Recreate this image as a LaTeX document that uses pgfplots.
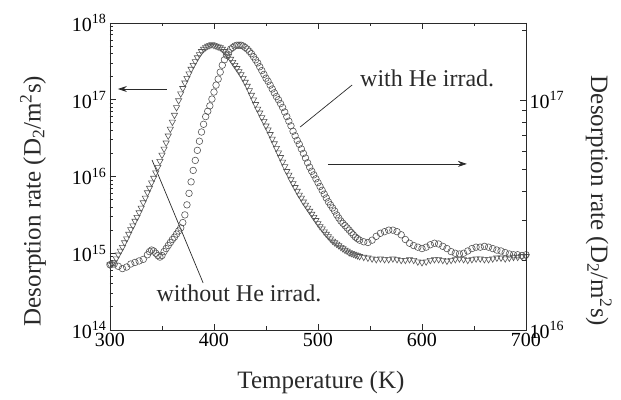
\documentclass[border=0pt]{standalone}
\usepackage{pgfplots}
\pgfplotsset{compat=1.18}
\usepackage{fontspec}
\setmainfont{Liberation Serif}
\usetikzlibrary{arrows.meta}
\definecolor{mkcol}{HTML}{555555}
\definecolor{axcol}{HTML}{2A2A2A}
\begin{document}
\begin{tikzpicture}
\begin{axis}[name=mainax, at={(0pt,0pt)}, anchor=south west,
  scale only axis, width=416pt, height=307pt,
  xmin=300, xmax=700, ymode=log, ymin=1e14, ymax=1e18,
  xtick={300,400,500,600,700}, xticklabels={300,400,500,600,700},
  minor x tick num=1,
  ytick={1e14,1e15,1e16,1e17,1e18},
  yticklabels={10\textsuperscript{14},10\textsuperscript{15},10\textsuperscript{16},10\textsuperscript{17},10\textsuperscript{18}},
  xtick pos=both, ytick pos=left, xticklabel pos=bottom,
  tick align=inside, major tick length=6pt, minor tick length=3.5pt,
  axis line style={draw=axcol, line width=0.9pt}, tick style={draw=axcol, line width=0.8pt},
  tick label style={font=\fontsize{20}{24}\selectfont},
  clip=false]
\addplot[only marks, mark=triangle, mark size=3.6pt, mark options={rotate=180, draw=mkcol, line width=0.6pt}] coordinates {
(300,7.08e14)(302,7.24e14)(304,7.59e14)(306,8.51e14)(308,9.55e14)(310,1.07e15)(312,1.20e15)(314,1.38e15)
(316,1.55e15)(318,1.78e15)(320,2.04e15)(322,2.29e15)(324,2.63e15)(326,2.95e15)(328,3.39e15)(330,3.89e15)
(332,4.57e15)(334,5.25e15)(336,6.17e15)(338,7.08e15)(340,8.32e15)(342,9.55e15)(344,1.12e16)(346,1.32e16)
(348,1.58e16)(350,1.91e16)(352,2.29e16)(354,2.75e16)(356,3.39e16)(358,4.17e16)(360,5.13e16)(362,6.31e16)
(364,7.94e16)(366,9.77e16)(368,1.20e17)(370,1.41e17)(372,1.66e17)(374,1.91e17)(376,2.19e17)(378,2.51e17)
(380,2.82e17)(382,3.16e17)(384,3.55e17)(386,3.89e17)(388,4.27e17)(390,4.57e17)(392,4.79e17)(394,5.01e17)
(396,5.13e17)(398,5.25e17)(400,5.13e17)(402,5.01e17)(404,4.90e17)(406,4.79e17)(408,4.57e17)(410,4.27e17)
(412,3.98e17)(414,3.72e17)(416,3.39e17)(418,3.09e17)(420,2.82e17)(422,2.57e17)(424,2.34e17)(426,2.14e17)
(428,1.91e17)(430,1.70e17)(432,1.51e17)(434,1.32e17)(436,1.15e17)(438,1.00e17)(440,8.71e16)(442,7.59e16)
(444,6.76e16)(446,5.89e16)(448,5.25e16)(450,4.57e16)(452,4.07e16)(454,3.55e16)(456,3.09e16)(458,2.69e16)
(460,2.34e16)(462,2.04e16)(464,1.78e16)(466,1.55e16)(468,1.35e16)(470,1.17e16)(472,1.05e16)(474,9.12e15)
(476,8.13e15)(478,7.24e15)(480,6.46e15)(482,5.75e15)(484,5.25e15)(486,4.68e15)(488,4.27e15)(490,3.89e15)
(492,3.55e15)(494,3.24e15)(496,2.95e15)(498,2.69e15)(500,2.45e15)(502,2.24e15)(504,2.09e15)(506,1.91e15)
(508,1.78e15)(510,1.66e15)(512,1.55e15)(514,1.45e15)(516,1.38e15)(518,1.32e15)(520,1.26e15)(522,1.20e15)
(524,1.15e15)(526,1.10e15)(528,1.07e15)(530,1.02e15)(532,1.00e15)(534,9.77e14)(536,9.55e14)(538,9.33e14)
(540,9.12e14)(544,8.91e14)(548,8.71e14)(552,8.51e14)
(556,8.32e14)(560,8.51e14)(564,8.32e14)(568,8.32e14)(572,8.51e14)(576,8.32e14)(580,8.13e14)(584,8.13e14)
(588,8.32e14)(592,8.13e14)(596,7.76e14)(600,7.59e14)(604,7.76e14)(608,8.13e14)(612,8.32e14)(616,8.32e14)
(620,8.13e14)(624,7.94e14)(628,8.13e14)(632,8.32e14)(636,8.51e14)(640,8.32e14)(644,8.13e14)(648,8.32e14)
(652,8.51e14)(656,8.51e14)(660,8.32e14)(664,8.32e14)(668,8.51e14)(672,8.71e14)(676,8.71e14)(680,8.51e14)
(684,8.71e14)(688,8.91e14)(692,8.91e14)(696,9.12e14)(700,9.12e14)
};
\addplot[only marks, mark=o, mark size=3.3pt, mark options={draw=mkcol, line width=0.6pt}] coordinates {
(300,7.08e14)(304,7.24e14)(308,6.76e14)(312,6.31e14)(316,6.61e14)(320,7.24e14)(324,7.59e14)(328,7.94e14)
(332,8.32e14)(336,9.55e14)(338,1.05e15)(340,1.10e15)(342,1.07e15)(344,1.00e15)(346,9.33e14)(348,8.91e14)
(350,9.33e14)(352,1.05e15)(354,1.15e15)(356,1.26e15)(358,1.38e15)(360,1.51e15)(362,1.62e15)
(364,1.78e15)(366,1.95e15)(368,2.14e15)(370,2.51e15)(372,3.16e15)(374,4.27e15)(376,6.03e15)(378,8.51e15)
(380,1.20e16)(382,1.62e16)(384,2.19e16)(386,2.88e16)(388,3.80e16)(390,4.79e16)(392,6.03e16)(394,7.08e16)
(396,8.32e16)(398,1.02e17)(400,1.26e17)(402,1.55e17)(404,1.86e17)(406,2.29e17)(408,2.82e17)(410,3.31e17)
(412,3.80e17)(414,4.17e17)(416,4.57e17)(418,4.79e17)(420,5.01e17)(422,5.13e17)(424,5.13e17)(426,5.13e17)
(428,5.01e17)(430,4.79e17)(432,4.57e17)(434,4.27e17)(436,3.98e17)(438,3.63e17)(440,3.31e17)(442,3.02e17)
(444,2.69e17)(446,2.40e17)(448,2.14e17)(450,1.91e17)(452,1.74e17)(454,1.55e17)(456,1.38e17)(458,1.23e17)
(460,1.10e17)(462,1.00e17)(464,8.91e16)(466,7.94e16)(468,6.92e16)(470,6.03e16)(472,5.25e16)(474,4.57e16)
(476,3.89e16)(478,3.39e16)(480,2.95e16)(482,2.63e16)(484,2.29e16)(486,2.00e16)(488,1.74e16)(490,1.51e16)
(492,1.32e16)(494,1.17e16)(496,1.05e16)(498,9.33e15)(500,8.32e15)(502,7.41e15)(504,6.61e15)(506,5.89e15)
(508,5.25e15)(510,4.68e15)(512,4.27e15)(514,3.89e15)(516,3.55e15)(518,3.16e15)(520,2.88e15)(522,2.63e15)
(524,2.45e15)(526,2.29e15)(528,2.14e15)(530,2.00e15)(532,1.86e15)(534,1.74e15)(536,1.62e15)(538,1.55e15)
(540,1.48e15)(544,1.41e15)(548,1.38e15)(552,1.48e15)
(556,1.66e15)(560,1.82e15)(564,1.91e15)(568,2.00e15)(572,2.00e15)(576,1.91e15)(580,1.74e15)(584,1.51e15)
(588,1.35e15)(592,1.26e15)(596,1.20e15)(600,1.15e15)(604,1.20e15)(608,1.29e15)(612,1.35e15)(616,1.32e15)
(620,1.23e15)(624,1.15e15)(628,1.05e15)(632,1.00e15)(636,9.77e14)(640,1.00e15)(644,1.07e15)(648,1.15e15)
(652,1.20e15)(656,1.20e15)(660,1.23e15)(664,1.20e15)(668,1.15e15)(672,1.10e15)(676,1.07e15)(680,1.02e15)
(684,9.77e14)(688,9.55e14)(692,9.55e14)(696,9.33e14)(700,9.55e14)
};
% frame and ticks
\draw[axcol, line width=0.9pt] (rel axis cs:0,0) rectangle (rel axis cs:1,1);
\pgfplotsinvokeforeach{300,400,500,600,700}{
  \draw[axcol, line width=0.8pt] (axis cs:#1,1e14) -- ([yshift=6pt]axis cs:#1,1e14);
  \draw[axcol, line width=0.8pt] (axis cs:#1,1e18) -- ([yshift=-6pt]axis cs:#1,1e18);}
\pgfplotsinvokeforeach{350,450,550,650}{
  \draw[axcol, line width=0.8pt] (axis cs:#1,1e14) -- ([yshift=3.5pt]axis cs:#1,1e14);
  \draw[axcol, line width=0.8pt] (axis cs:#1,1e18) -- ([yshift=-3.5pt]axis cs:#1,1e18);}
\pgfplotsinvokeforeach{1e14,1e15,1e16,1e17,1e18}{
  \draw[axcol, line width=0.8pt] (axis cs:300,#1) -- ([xshift=6pt]axis cs:300,#1);}
\pgfplotsinvokeforeach{2e14,3e14,4e14,5e14,6e14,7e14,8e14,9e14,2e15,3e15,4e15,5e15,6e15,7e15,8e15,9e15,2e16,3e16,4e16,5e16,6e16,7e16,8e16,9e16,2e17,3e17,4e17,5e17,6e17,7e17,8e17,9e17}{
  \draw[axcol, line width=0.8pt] (axis cs:300,#1) -- ([xshift=3.5pt]axis cs:300,#1);}
% annotations
\draw[axcol, line width=0.8pt, -{Stealth[length=9pt,width=6pt]}] (rel axis cs:0.137,0.785) -- (rel axis cs:0.019,0.785);
\draw[axcol, line width=0.8pt, -{Stealth[length=9pt,width=6pt]}] (rel axis cs:0.524,0.541) -- (rel axis cs:0.858,0.541);
\draw[axcol, line width=0.7pt] (rel axis cs:0.457,0.661) -- (rel axis cs:0.582,0.798);
\draw[axcol, line width=0.7pt] (rel axis cs:0.101,0.554) -- (rel axis cs:0.224,0.153);
\node[anchor=west, font=\fontsize{24}{28}\selectfont, text=axcol, inner sep=0pt] at (rel axis cs:0.601,0.821) {with He irrad.};
\node[font=\fontsize{24}{28}\selectfont, text=axcol, inner sep=0pt] at (rel axis cs:0.31,0.121) {without He irrad.};
\node[font=\fontsize{25}{30}\selectfont, text=axcol, inner sep=0pt] at (rel axis cs:0.507,-0.17) {Temperature (K)};
\node[font=\fontsize{25}{30}\selectfont, text=axcol, inner sep=0pt, rotate=90] at (rel axis cs:-0.185,0.42) {Desorption rate (D\textsubscript{2}/m\textsuperscript{2}s)};
\node[font=\fontsize{25}{30}\selectfont, text=axcol, inner sep=0pt, rotate=-90] at (rel axis cs:1.175,0.42) {Desorption rate (D\textsubscript{2}/m\textsuperscript{2}s)};
\path (rel axis cs:-0.2644,-0.2248) rectangle (rel axis cs:1.2284,1.0749);
\end{axis}
\begin{axis}[at={(0pt,0pt)}, anchor=south west,
  scale only axis, width=416pt, height=307pt,
  xmin=300, xmax=700, hide x axis,
  axis y line*=right, ymode=log, ymin=1e16, ymax=2.163e17,
  ytick={1e16,1e17},
  yticklabels={10\textsuperscript{16},10\textsuperscript{17}},
  tick align=inside, major tick length=6pt, minor tick length=3.5pt,
  axis line style={draw=axcol, line width=0.9pt}, tick style={draw=axcol, line width=0.8pt},
  tick label style={font=\fontsize{20}{24}\selectfont}, clip=false]
\addplot[draw=none, forget plot] coordinates {(300,1e16)(700,1e16)};
\pgfplotsinvokeforeach{1e16,1e17}{
  \draw[axcol, line width=0.8pt] (axis cs:700,#1) -- ([xshift=-6pt]axis cs:700,#1);}
\pgfplotsinvokeforeach{2e16,3e16,4e16,5e16,6e16,7e16,8e16,9e16,2e17}{
  \draw[axcol, line width=0.8pt] (axis cs:700,#1) -- ([xshift=-3.5pt]axis cs:700,#1);}
\end{axis}
\end{tikzpicture}
\end{document}
